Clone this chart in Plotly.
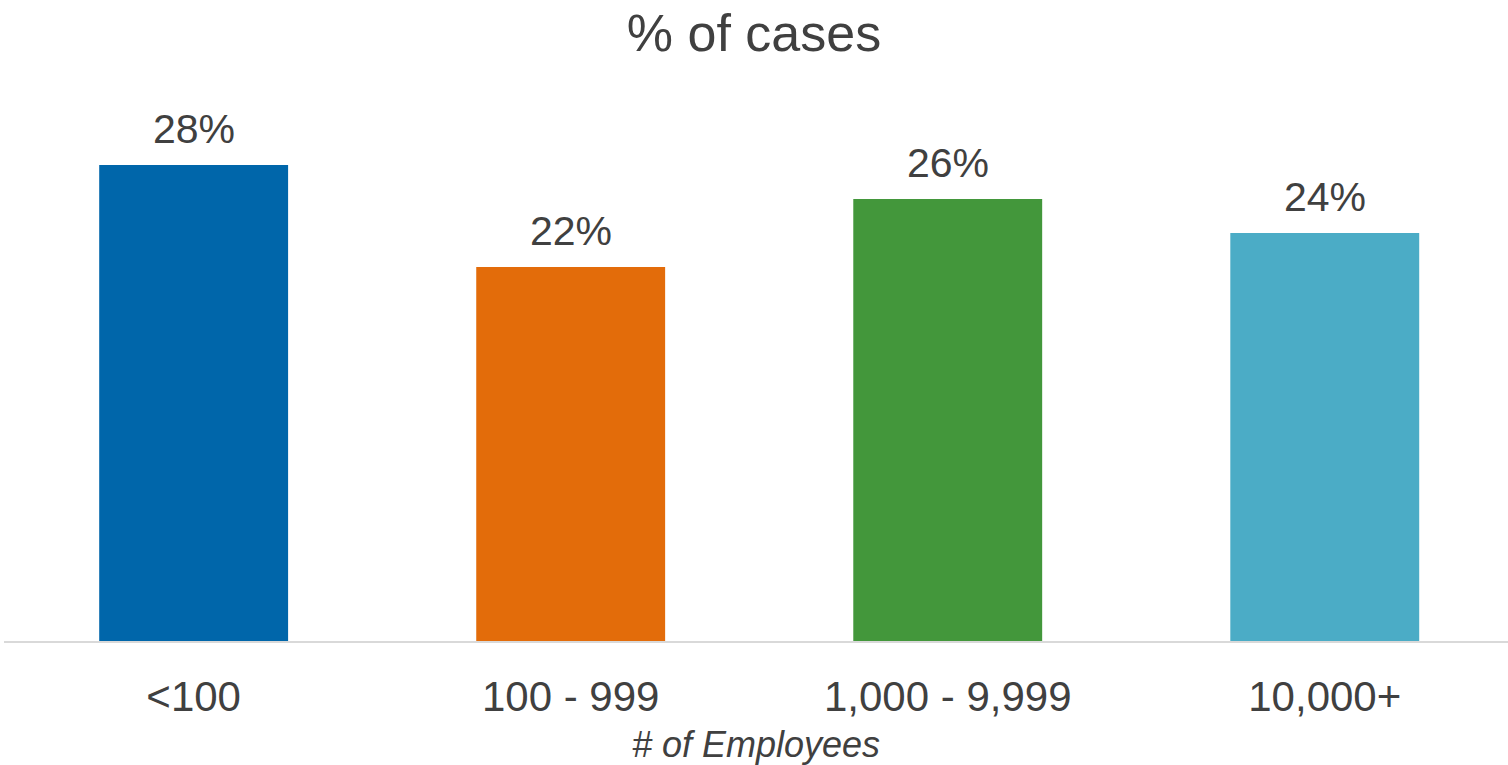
import plotly.graph_objects as go

categories = ["<100", "100 - 999", "1,000 - 9,999", "10,000+"]
values = [28, 22, 26, 24]
bar_colors = ["#0066AA", "#E36C0A", "#43973B", "#4BACC6"]

FONT = "Liberation Sans, Arial, sans-serif"
TEXT = "#404040"

fig = go.Figure(
    go.Bar(
        x=categories,
        y=values,
        marker=dict(color=bar_colors, line=dict(width=0)),
        showlegend=False,
        hoverinfo="skip",
    )
)

# value labels above each bar
for c, v in zip(categories, values):
    fig.add_annotation(
        x=c, y=v, text=f"{v}%", showarrow=False,
        yanchor="bottom", yshift=11,
        font=dict(family=FONT, size=41, color=TEXT),
    )

fig.update_layout(
    width=1508, height=765,
    margin=dict(l=4, r=0, t=81, b=124),
    paper_bgcolor="white", plot_bgcolor="white",
    bargap=0.499,
    title=dict(
        text="% of cases", x=0.5, xanchor="center",
        yref="container", y=1 - 33 / 765, yanchor="middle",
        font=dict(family=FONT, size=52, color=TEXT),
    ),
    xaxis=dict(
        type="category",
        range=[-0.503, 3.486],
        showline=True, linecolor="#D9D9D9", linewidth=2,
        showgrid=False, zeroline=False, ticks="",
        ticklabelstandoff=18,
        tickfont=dict(family=FONT, size=42, color=TEXT),
        title=dict(
            text="<i># of Employees</i>", standoff=12,
            font=dict(family=FONT, size=36, color=TEXT),
        ),
    ),
    yaxis=dict(
        range=[0, 560 / 17], visible=False,
        showgrid=False, zeroline=False,
    ),
)

fig.write_html("out.html")
